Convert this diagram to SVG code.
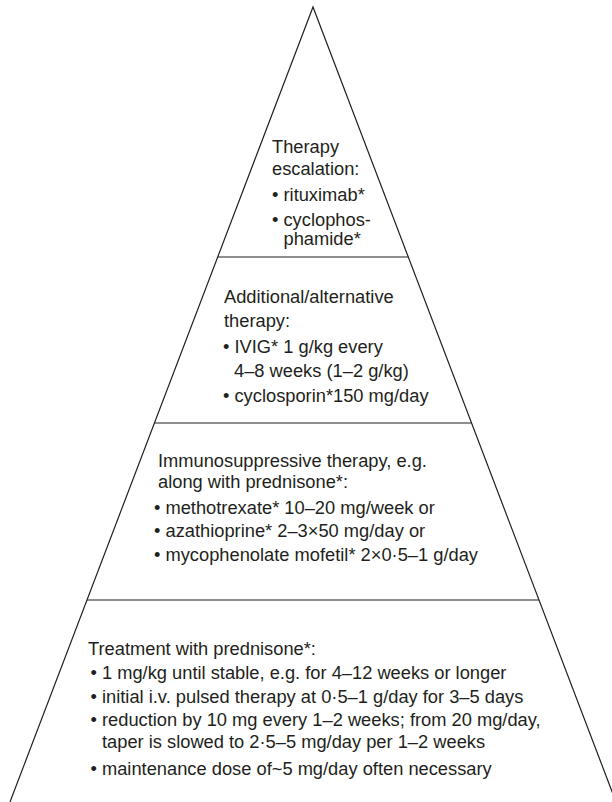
<svg xmlns="http://www.w3.org/2000/svg" width="612" height="802" viewBox="0 0 612 802">
  <style>
    .frame { fill: none; stroke: #231f20; stroke-width: 1.2; }
    .t { font-family: "Liberation Sans", Arial, sans-serif; font-size: 18.3px; fill: #231f20; }
  </style>
  <rect x="0" y="0" width="612" height="802" fill="#ffffff"/>
  <g id="connectors">
    <path class="frame" d="M10,802 L313,7 L616,802"/>
    <line class="frame" x1="217.7" y1="257" x2="408.3" y2="257"/>
    <line class="frame" x1="154.5" y1="423" x2="471.5" y2="423"/>
    <line class="frame" x1="87" y1="600" x2="539" y2="600"/>
  </g>
  <g id="tier-escalation">
    <text class="t" x="272" y="153">Therapy</text>
    <text class="t" x="272" y="175">escalation:</text>
    <text class="t" x="272" y="201">• rituximab*</text>
    <text class="t" x="272" y="225.5">• cyclophos-</text>
    <text class="t" x="283.5" y="245">phamide*</text>
  </g>
  <g id="tier-additional">
    <text class="t" x="224" y="303">Additional/alternative</text>
    <text class="t" x="224" y="326.5">therapy:</text>
    <text class="t" x="223" y="353">• IVIG* 1 g/kg every</text>
    <text class="t" x="234" y="376.5">4–8 weeks (1–2 g/kg)</text>
    <text class="t" x="223" y="401.5">• cyclosporin*150 mg/day</text>
  </g>
  <g id="tier-immunosuppressive">
    <text class="t" x="158" y="466.5">Immunosuppressive therapy, e.g.</text>
    <text class="t" x="158" y="488">along with prednisone*:</text>
    <text class="t" x="154" y="514">• methotrexate* 10–20 mg/week or</text>
    <text class="t" x="154" y="537">• azathioprine* 2–3×50 mg/day or</text>
    <text class="t" x="154" y="561">• mycophenolate mofetil* 2×0·5–1 g/day</text>
  </g>
  <g id="tier-prednisone">
    <text class="t" x="88" y="655">Treatment with prednisone*:</text>
    <text class="t" x="90.5" y="679">• 1 mg/kg until stable, e.g. for 4–12 weeks or longer</text>
    <text class="t" x="90.5" y="703">• initial i.v. pulsed therapy at 0·5–1 g/day for 3–5 days</text>
    <text class="t" x="90.5" y="726">• reduction by 10 mg every 1–2 weeks; from 20 mg/day,</text>
    <text class="t" x="102" y="748">taper is slowed to 2·5–5 mg/day per 1–2 weeks</text>
    <text class="t" x="90.5" y="775">• maintenance dose of~5 mg/day often necessary</text>
  </g>
</svg>
